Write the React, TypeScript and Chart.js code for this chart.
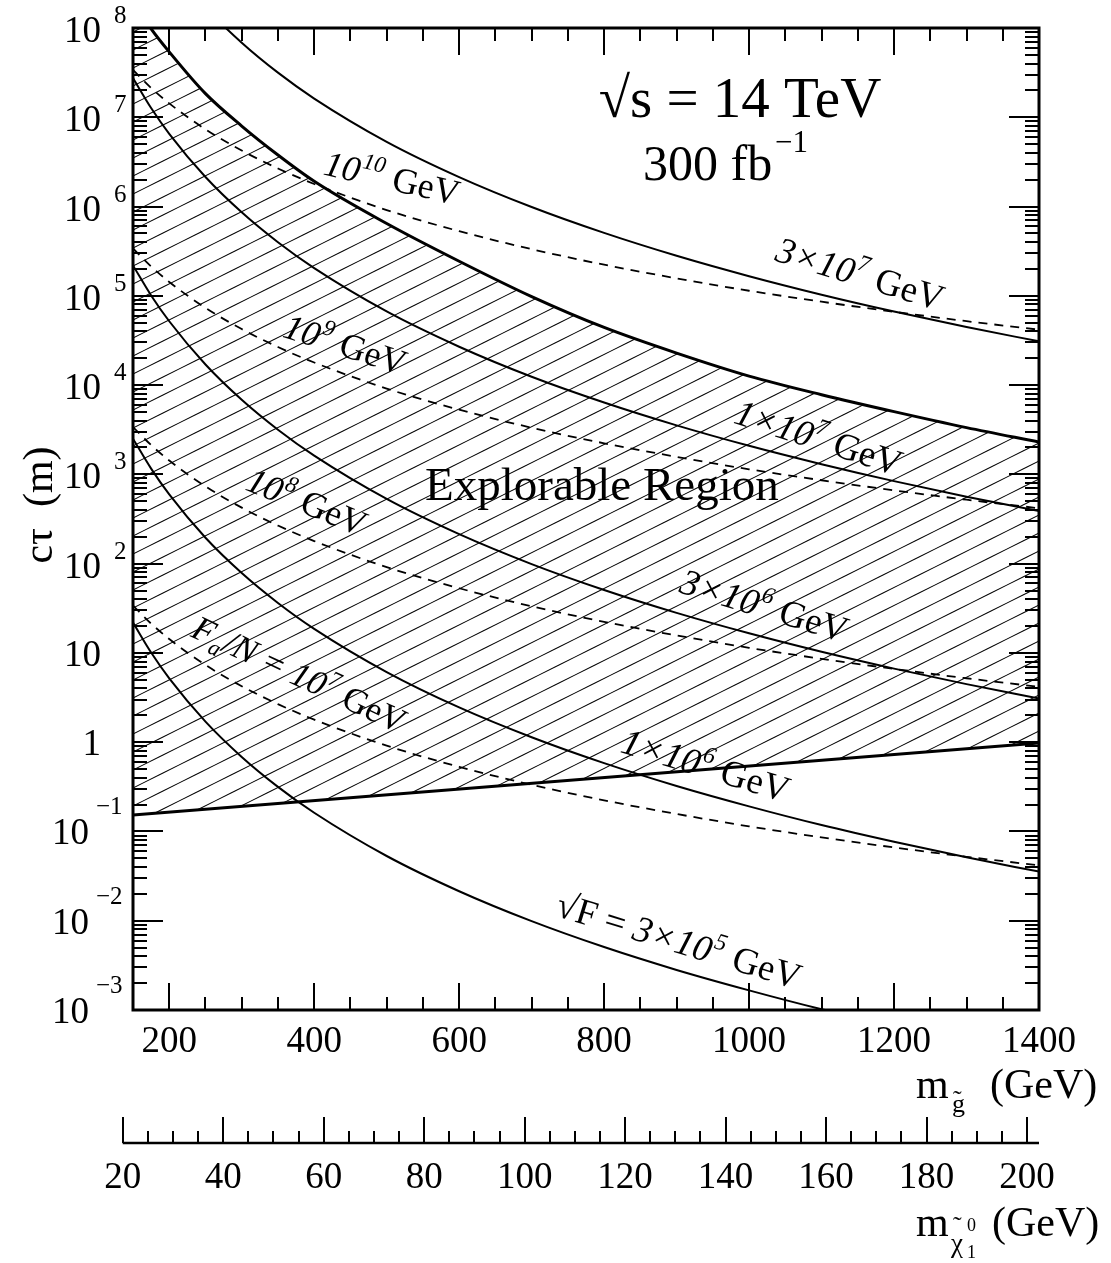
import React, { useEffect, useRef } from "react";
import { Chart, registerables } from "chart.js";

Chart.register(...registerables);

const SERIF = '"Liberation Serif", "Times New Roman", Times, serif';

// ---------------- data ----------------
// gluino mass grid (GeV)
const M_GLUINO = [150, 175, 200, 250, 300, 350, 400, 500, 600, 700, 800, 900, 1000, 1100, 1200, 1300, 1400];

// gravitino lines, sqrt(F) (solid), c tau in metres
const CT_SQRTF_3E5 = [21.9, 10.1, 5.19, 1.7, 0.684, 0.316, 0.162, 0.0531, 0.0214, 0.00989, 0.00507, 0.00281, 0.00166, 0.00102, 0.00066];
const CT_SQRTF_1E6 = [2510, 1160, 596, 195, 78.5, 36.3, 18.6, 6.1, 2.45, 1.135, 0.582, 0.323, 0.191, 0.118, 0.0766, 0.0513, 0.0355];
const CT_SQRTF_3E6 = [219000, 101000, 51900, 17000, 6840, 3160, 1620, 531, 214, 98.9, 50.7, 28.1, 16.6, 10.3, 6.67, 4.47, 3.09];
const CT_SQRTF_1E7 = [2.75e7, 1.27e7, 6.53e6, 2.14e6, 8.61e5, 3.98e5, 2.04e5, 6.68e4, 2.69e4, 1.24e4, 6380, 3540, 2090, 1300, 840, 562, 389];
const CT_SQRTF_3E7 = [2.19e9, 1.01e9, 5.19e8, 1.7e8, 6.84e7, 3.16e7, 1.62e7, 5.31e6, 2.14e6, 9.89e5, 5.07e5, 2.81e5, 1.66e5, 1.03e5, 6.67e4, 4.47e4, 3.09e4];

// axino lines, Fa/N (dashed)
const CT_FA_1E7 = [33.9, 21.3, 14.3, 7.33, 4.24, 2.67, 1.79, 0.914, 0.53, 0.333, 0.223, 0.157, 0.114, 0.0859, 0.0662, 0.052, 0.0417];
const CT_FA_1E8 = [3390, 2130, 1430, 733, 424, 267, 179, 91.4, 53.0, 33.3, 22.3, 15.7, 11.4, 8.59, 6.62, 5.2, 4.17];
const CT_FA_1E9 = [3.39e5, 2.13e5, 1.43e5, 7.33e4, 4.24e4, 2.67e4, 1.79e4, 9140, 5300, 3330, 2230, 1570, 1140, 859, 662, 520, 417];
const CT_FA_1E10 = [3.39e7, 2.13e7, 1.43e7, 7.33e6, 4.24e6, 2.67e6, 1.79e6, 9.14e5, 5.3e5, 3.33e5, 2.23e5, 1.57e5, 1.14e5, 8.59e4, 6.62e4, 5.2e4, 4.17e4];

// explorable region boundaries
const CT_REGION_UPPER = [2.0e8, 9.8e7, 5.4e7, 1.84e7, 7.98e6, 3.78e6, 1.92e6, 6.46e5, 2.44e5, 9.8e4, 4.42e4, 2.28e4, 1.26e4, 7800, 5040, 3340, 2300];
const M_REGION_LOWER = [150, 1400];
const CT_REGION_LOWER = [0.153, 0.98];

// axes
const X_MAJOR_TICKS = [200, 400, 600, 800, 1000, 1200, 1400];
const X_TICK_LABELS = ["200", "400", "600", "800", "1000", "1200", "1400"];
const Y_EXPONENTS = [-3, -2, -1, 0, 1, 2, 3, 4, 5, 6, 7, 8];
const CHI_MAJOR_TICKS = [20, 40, 60, 80, 100, 120, 140, 160, 180, 200];
const CHI_TICK_LABELS = ["20", "40", "60", "80", "100", "120", "140", "160", "180", "200"];

type Seg = { t: string; it?: boolean; sup?: boolean; sub?: boolean };

const CURVE_LABELS: { m: number; ct: number; angle: number; size: number; segs: Seg[] }[] = [
  { m: 411, ct: 2.3e6, angle: 13, size: 36, segs: [{ t: "10", it: true }, { t: "10", it: true, sup: true }, { t: " GeV" }] },
  { m: 1034, ct: 2.5e5, angle: 17, size: 37, segs: [{ t: "3×10", it: true }, { t: "7", it: true, sup: true }, { t: " GeV" }] },
  { m: 355, ct: 3.5e4, angle: 18, size: 36, segs: [{ t: "10", it: true }, { t: "9", it: true, sup: true }, { t: " GeV" }] },
  { m: 303, ct: 680, angle: 22, size: 36, segs: [{ t: "10", it: true }, { t: "8", it: true, sup: true }, { t: " GeV" }] },
  { m: 228, ct: 15.5, angle: 25, size: 35, segs: [{ t: "F", it: true }, { t: "a", it: true, sub: true }, { t: "/N = 10", it: true }, { t: "7", it: true, sup: true }, { t: " GeV" }] },
  { m: 977, ct: 3800, angle: 18, size: 37, segs: [{ t: "1×10", it: true }, { t: "7", it: true, sup: true }, { t: " GeV" }] },
  { m: 902, ct: 48, angle: 17, size: 37, segs: [{ t: "3×10", it: true }, { t: "6", it: true, sup: true }, { t: " GeV" }] },
  { m: 821, ct: 0.78, angle: 17, size: 37, segs: [{ t: "1×10", it: true }, { t: "6", it: true, sup: true }, { t: " GeV" }] },
  { m: 731, ct: 0.0115, angle: 17, size: 37, segs: [{ t: "√F = " }, { t: "3×10", it: true }, { t: "5", it: true, sup: true }, { t: " GeV" }] },
];

// ---------------- helpers ----------------
const pts = (xs: number[], ys: number[]) => ys.map((y, i) => ({ x: xs[i], y }));

function makeHatch(): CanvasPattern | string {
  const c = document.createElement("canvas");
  c.width = 36;
  c.height = 18;
  const g = c.getContext("2d");
  if (!g) return "rgba(0,0,0,0.2)";
  g.strokeStyle = "#000";
  g.lineWidth = 1.1;
  for (let k = -2; k <= 3; k++) {
    const y0 = 8.5 + 18 * k;
    g.beginPath();
    g.moveTo(-1, y0 + 0.5);
    g.lineTo(37, y0 - 18.5);
    g.stroke();
  }
  return g.createPattern(c, "repeat") || "rgba(0,0,0,0.2)";
}

function drawSegs(ctx: CanvasRenderingContext2D, segs: Seg[], x: number, y: number, angleDeg: number, size: number) {
  ctx.save();
  ctx.translate(x, y);
  ctx.rotate((angleDeg * Math.PI) / 180);
  ctx.textAlign = "left";
  ctx.textBaseline = "alphabetic";
  let cx = 0;
  for (const s of segs) {
    const small = s.sup || s.sub;
    const fs = small ? size * 0.64 : size;
    ctx.font = `${s.it ? "italic " : ""}${fs}px ${SERIF}`;
    const dy = s.sup ? -size * 0.42 : s.sub ? size * 0.22 : 0;
    ctx.fillText(s.t, cx + (small ? 1 : 0), dy);
    cx += ctx.measureText(s.t).width + (small ? 2 : 0);
  }
  ctx.restore();
}

function text(ctx: CanvasRenderingContext2D, s: string, x: number, y: number, size: number, align: CanvasTextAlign = "left", style = "") {
  ctx.font = `${style}${size}px ${SERIF}`;
  ctx.textAlign = align;
  ctx.textBaseline = "alphabetic";
  ctx.fillText(s, x, y);
}

const framePlugin = {
  id: "rootFrame",
  afterDraw(chart: any) {
    const ctx: CanvasRenderingContext2D = chart.ctx;
    const { left, right, top, bottom } = chart.chartArea;
    const xs = chart.scales.x;
    const ys = chart.scales.y;
    const x2 = chart.scales.x2;
    ctx.save();
    ctx.fillStyle = "#000";
    ctx.strokeStyle = "#000";

    // ticks
    ctx.lineWidth = 2;
    ctx.beginPath();
    for (let v = 200; v <= 1400; v += 50) {
      const px = Math.round(xs.getPixelForValue(v));
      const major = v % 200 === 0;
      const len = major ? 27 : 13;
      ctx.moveTo(px, bottom);
      ctx.lineTo(px, bottom - len);
      ctx.moveTo(px, top);
      ctx.lineTo(px, top + len);
    }
    for (let e = -3; e <= 8; e++) {
      for (let k = 1; k <= 9; k++) {
        if (e === 8 && k > 1) break;
        const py = Math.round(ys.getPixelForValue(k * Math.pow(10, e)));
        const len = k === 1 ? 30 : 14;
        ctx.moveTo(left, py);
        ctx.lineTo(left + len, py);
        ctx.moveTo(right, py);
        ctx.lineTo(right - len, py);
      }
    }
    ctx.stroke();

    // frame
    ctx.lineWidth = 3;
    ctx.strokeRect(left, top, right - left, bottom - top);

    // x tick labels
    X_MAJOR_TICKS.forEach((v, i) => {
      text(ctx, X_TICK_LABELS[i], xs.getPixelForValue(v), 1052, 37, "center");
    });

    // y tick labels
    Y_EXPONENTS.forEach((e) => {
      const py = ys.getPixelForValue(Math.pow(10, e));
      if (e === 0) {
        text(ctx, "1", 101, py + 13, 37, "right");
      } else if (e === 1) {
        text(ctx, "10", 101, py + 13, 37, "right");
      } else if (e > 1) {
        text(ctx, "10", 101, py + 14, 37, "right");
        text(ctx, String(e), 114, py - 5, 25, "left");
      } else {
        text(ctx, "10", 89, py + 13, 37, "right");
        text(ctx, "\u2212" + String(-e), 96, py - 17, 25, "left");
      }
    });

    // axis titles
    text(ctx, "m", 916, 1098, 42, "left");
    text(ctx, "g", 952, 1112, 26, "left");
    text(ctx, "\u02DC", 953, 1108, 26, "left");
    text(ctx, "(GeV)", 990, 1098, 42, "left");

    ctx.save();
    ctx.translate(52, 505);
    ctx.rotate(-Math.PI / 2);
    text(ctx, "c\u03C4  (m)", 0, 0, 42, "center");
    ctx.restore();

    // secondary (neutralino) axis
    const a0 = x2.getPixelForValue(20);
    ctx.lineWidth = 2.5;
    ctx.beginPath();
    ctx.moveTo(a0, 1143);
    ctx.lineTo(right, 1143);
    ctx.stroke();
    ctx.lineWidth = 2;
    ctx.beginPath();
    for (let v = 20; v <= 200; v += 5) {
      const px = Math.round(x2.getPixelForValue(v));
      const len = v % 20 === 0 ? 26 : 12;
      ctx.moveTo(px, 1143);
      ctx.lineTo(px, 1143 - len);
    }
    ctx.stroke();
    CHI_MAJOR_TICKS.forEach((v, i) => {
      text(ctx, CHI_TICK_LABELS[i], x2.getPixelForValue(v), 1188, 37, "center");
    });
    text(ctx, "m", 916, 1236, 42, "left");
    text(ctx, "\u03C7", 951, 1252, 27, "left");
    text(ctx, "\u02DC", 953, 1234, 26, "left");
    text(ctx, "1", 967, 1258, 18, "left");
    text(ctx, "0", 967, 1231, 18, "left");
    text(ctx, "(GeV)", 992, 1236, 42, "left");

    // annotations
    text(ctx, "\u221As = 14 TeV", 740, 117, 57, "center");
    text(ctx, "300 fb", 643, 180, 50, "left");
    text(ctx, "\u22121", 775, 152, 31, "left");
    text(ctx, "Explorable Region", 425, 500, 47, "left");

    CURVE_LABELS.forEach((l) => {
      drawSegs(ctx, l.segs, xs.getPixelForValue(l.m), ys.getPixelForValue(l.ct), l.angle, l.size);
    });

    ctx.restore();
  },
};

export default function App() {
  const ref = useRef<HTMLCanvasElement | null>(null);
  useEffect(() => {
    const canvas = ref.current;
    if (!canvas) return;
    const hatch = makeHatch();
    const solid = (ys: number[], w = 2) => ({
      data: pts(M_GLUINO, ys),
      borderColor: "#000",
      borderWidth: w,
      pointRadius: 0,
      fill: false,
      cubicInterpolationMode: "monotone" as const,
    });
    const dashed = (ys: number[]) => ({ ...solid(ys, 1.8), borderDash: [9, 7] });
    const chart = new Chart(canvas, {
      type: "line",
      data: {
        datasets: [
          {
            data: pts(M_GLUINO, CT_REGION_UPPER),
            borderColor: "#000",
            borderWidth: 3,
            pointRadius: 0,
            fill: "+1",
            backgroundColor: hatch as any,
            cubicInterpolationMode: "monotone" as const,
          },
          {
            data: pts(M_REGION_LOWER, CT_REGION_LOWER),
            borderColor: "#000",
            borderWidth: 3,
            pointRadius: 0,
            fill: false,
          },
          solid(CT_SQRTF_3E5),
          solid(CT_SQRTF_1E6),
          solid(CT_SQRTF_3E6),
          solid(CT_SQRTF_1E7),
          solid(CT_SQRTF_3E7),
          dashed(CT_FA_1E7),
          dashed(CT_FA_1E8),
          dashed(CT_FA_1E9),
          dashed(CT_FA_1E10),
        ] as any,
      },
      options: {
        responsive: false,
        animation: false,
        devicePixelRatio: 1,
        events: [],
        layout: { padding: { left: 133, top: 28, right: 72, bottom: 253 } },
        scales: {
          x: { type: "linear", min: 150, max: 1400, display: false },
          y: { type: "logarithmic", min: 1e-3, max: 1e8, display: false },
          x2: { type: "linear", axis: "x", position: "bottom", min: 22.05, max: 202.38, display: false },
        },
        plugins: {
          legend: { display: false },
          tooltip: { enabled: false },
          title: { display: false },
          filler: { propagate: false, drawTime: "beforeDatasetsDraw" },
        },
      } as any,
      plugins: [framePlugin],
    });
    return () => chart.destroy();
  }, []);
  return (
    <div style={{ position: "absolute", left: 0, top: 0, width: 1111, height: 1263, background: "#fff" }}>
      <canvas ref={ref} width={1111} height={1263} style={{ display: "block" }} />
    </div>
  );
}
